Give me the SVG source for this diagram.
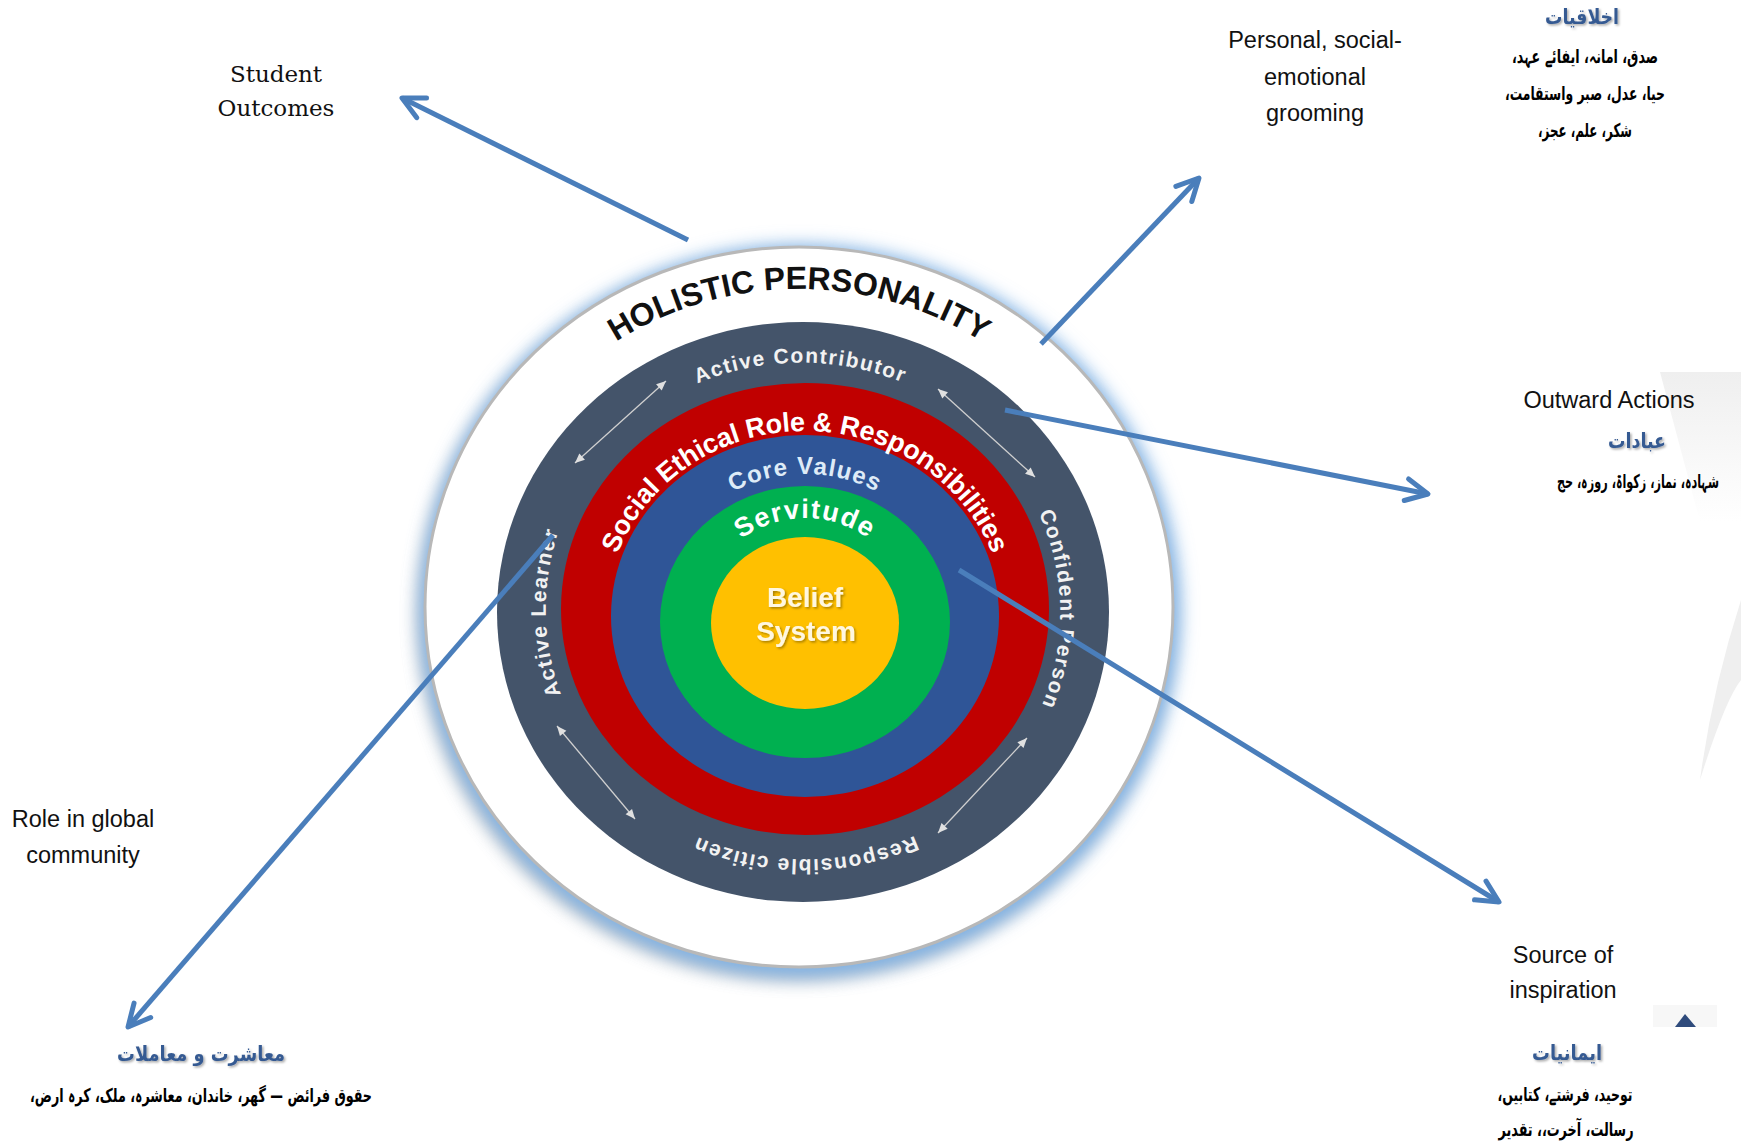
<svg xmlns="http://www.w3.org/2000/svg" width="1741" height="1142" viewBox="0 0 1741 1142">
<defs>
<style>
.lbl{font-family:"Liberation Sans",Arial,sans-serif;font-size:23.5px;fill:#111;text-anchor:middle}
.serif{font-family:"DejaVu Serif","Liberation Serif",serif;font-size:23px;fill:#111;text-anchor:middle}
.urt{font-family:"DejaVu Sans","Noto Sans",sans-serif;font-weight:bold;font-size:21px;fill:#355A92;text-anchor:middle;direction:rtl;unicode-bidi:embed}
.urb{font-family:"DejaVu Sans","Noto Sans",sans-serif;font-weight:bold;font-size:19px;fill:#000;text-anchor:middle;direction:rtl;unicode-bidi:embed}
.ring{font-family:"Liberation Sans",Arial,sans-serif;font-weight:bold}
.conn{fill:none;stroke:#4A7EBB;stroke-width:5}
.tiny{fill:none;stroke:#D0D0D0;stroke-width:1.3}
</style>
<marker id="ah" markerUnits="userSpaceOnUse" markerWidth="40" markerHeight="40" viewBox="-30 -20 40 40" refX="0" refY="0" orient="auto" overflow="visible">
<path d="M-22,-11 L0,0 L-22,11" fill="none" stroke="#4A7EBB" stroke-width="5" stroke-linecap="round" stroke-linejoin="round"/>
</marker>
<marker id="sm" markerUnits="userSpaceOnUse" markerWidth="12" markerHeight="12" viewBox="-8 -4 10 8" refX="0" refY="0" orient="auto-start-reverse" overflow="visible">
<path d="M0,0 L-8,-3.5 L-8,3.5 Z" fill="#E0E0E0"/>
</marker>
<filter id="blur" x="-20%" y="-20%" width="140%" height="140%"><feGaussianBlur stdDeviation="9"/></filter>
<filter id="tsh" x="-10%" y="-20%" width="120%" height="160%"><feDropShadow dx="1.5" dy="1.5" stdDeviation="1" flood-color="#000" flood-opacity="0.35"/></filter>
<linearGradient id="wm" x1="0" y1="0" x2="0" y2="1"><stop offset="0" stop-color="#EFEFEF"/><stop offset="1" stop-color="#FFFFFF"/></linearGradient>
<path id="pHol" d="M467,607 A332,318 0 0 1 1131,607"/>
<path id="pDark" d="M619.9,434.2 A259,250 0 0 1 986.1,787.8 A259,250 0 0 1 619.9,434.2"/>
<path id="pSoc" d="M605,620 A200,189 0 0 1 1005,620"/>
<path id="pCore" d="M655,620 A150,146 0 0 1 955,620"/>
<path id="pServ" d="M699,622 A106,104 0 0 1 911,622"/>
</defs>
<rect width="1741" height="1142" fill="#FFFFFF"/>

<g id="watermark">
<path d="M1660,372 L1741,372 L1741,522 L1700,522 Z" fill="url(#wm)"/>
<path d="M1741,600 Q1712,690 1700,780 Q1725,700 1741,680 Z" fill="#EFEFEF"/>
</g>

<g id="circle">
<ellipse cx="795" cy="617" rx="376" ry="362" fill="#808080" opacity="0.55" filter="url(#blur)"/>
<ellipse cx="800" cy="611" rx="380" ry="366" fill="#7FB3E8" filter="url(#blur)"/>
<ellipse cx="799" cy="607" rx="374" ry="360" fill="#FFFFFF" stroke="#B8B8B8" stroke-width="3"/>
<ellipse cx="803" cy="612" rx="306" ry="290" fill="#44546A"/>
<ellipse cx="805" cy="609" rx="244" ry="226" fill="#C00000"/>
<ellipse cx="805" cy="616" rx="194" ry="181" fill="#2F5597"/>
<ellipse cx="805" cy="622" rx="145" ry="136" fill="#00B050"/>
<ellipse cx="805" cy="623" rx="94" ry="86" fill="#FFC000"/>
</g>

<g id="holistic">
<text class="ring" font-size="32" fill="#111" text-anchor="middle"><textPath href="#pHol" startOffset="50%">HOLISTIC PERSONALITY</textPath></text>
</g>
<g id="outer-labels" class="ring" font-size="21" fill="#F2F2F2" letter-spacing="1.5" text-anchor="middle">
<text><textPath href="#pDark" startOffset="12.5%">Active Contributor</textPath></text>
<text><textPath href="#pDark" startOffset="37.5%">Confident Person</textPath></text>
<text><textPath href="#pDark" startOffset="62.5%">Responsible citizen</textPath></text>
<text><textPath href="#pDark" startOffset="87.5%">Active Learner</textPath></text>
</g>
<g id="cycle-arrows">
<line class="tiny" x1="575" y1="463" x2="666" y2="381" marker-start="url(#sm)" marker-end="url(#sm)"/>
<line class="tiny" x1="938" y1="389" x2="1035" y2="477" marker-start="url(#sm)" marker-end="url(#sm)"/>
<line class="tiny" x1="557" y1="726" x2="635" y2="819" marker-start="url(#sm)" marker-end="url(#sm)"/>
<line class="tiny" x1="1027" y1="738" x2="938" y2="833" marker-start="url(#sm)" marker-end="url(#sm)"/>
</g>
<g id="social">
<text class="ring" font-size="27" fill="#FFFFFF" text-anchor="middle" letter-spacing="-0.2"><textPath href="#pSoc" startOffset="50%">Social Ethical Role &amp; Responsibilities</textPath></text>
</g>
<g id="core">
<text class="ring" font-size="24" fill="#DEEBF7" text-anchor="middle" letter-spacing="1.2"><textPath href="#pCore" startOffset="50%">Core Values</textPath></text>
</g>
<g id="servitude">
<text class="ring" font-size="27" fill="#FFFFFF" text-anchor="middle" letter-spacing="1.5"><textPath href="#pServ" startOffset="50%">Servitude</textPath></text>
</g>
<g id="belief" filter="url(#tsh)">
<text class="ring" font-size="28" fill="#FFF7E0" text-anchor="middle" x="805" y="607">Belief</text>
<text class="ring" font-size="28" fill="#FFF7E0" text-anchor="middle" x="806" y="641">System</text>
</g>

<g id="connectors">
<line class="conn" x1="688" y1="240" x2="402" y2="98" marker-end="url(#ah)"/>
<line class="conn" x1="1041" y1="344" x2="1199" y2="178" marker-end="url(#ah)"/>
<line class="conn" x1="1005" y1="410" x2="1428" y2="494" marker-end="url(#ah)"/>
<line class="conn" x1="959" y1="570" x2="1499" y2="902" marker-end="url(#ah)"/>
<line class="conn" x1="553" y1="535" x2="128" y2="1027" marker-end="url(#ah)"/>
</g>

<g id="student-outcomes">
<text class="serif" x="276" y="82">Student</text>
<text class="serif" x="276" y="116">Outcomes</text>
</g>
<g id="personal">
<text class="lbl" x="1315" y="48">Personal, social-</text>
<text class="lbl" x="1315" y="85">emotional</text>
<text class="lbl" x="1315" y="121">grooming</text>
</g>
<g id="akhlaqiyat">
<text class="urt" x="1582" y="24" textLength="74" lengthAdjust="spacingAndGlyphs" filter="url(#tsh)">اخلاقیات</text>
<text class="urb" x="1585" y="63" textLength="146" lengthAdjust="spacingAndGlyphs">صدق، امانہ، ایفائے عہد،</text>
<text class="urb" x="1585" y="100" textLength="160" lengthAdjust="spacingAndGlyphs">حیا، عدل، صبر واستقامت،</text>
<text class="urb" x="1585" y="137" textLength="94" lengthAdjust="spacingAndGlyphs">شکر، علم، عجز،</text>
</g>
<g id="outward">
<text class="lbl" x="1609" y="408" font-size="30px">Outward Actions</text>
<text class="urt" x="1637" y="448" textLength="58" lengthAdjust="spacingAndGlyphs" filter="url(#tsh)">عبادات</text>
<text class="urb" x="1638" y="488" textLength="162" lengthAdjust="spacingAndGlyphs">شہادہ، نماز، زکواۃ، روزہ، حج</text>
</g>
<g id="global">
<text class="lbl" x="83" y="827">Role in global</text>
<text class="lbl" x="83" y="863">community</text>
<text class="urt" x="201" y="1061" textLength="168" lengthAdjust="spacingAndGlyphs" filter="url(#tsh)">معاشرت و معاملات</text>
<text class="urb" x="201" y="1102" textLength="342" lengthAdjust="spacingAndGlyphs">حقوق فرائض — گھر، خاندان، معاشرہ، ملک، کرہ ارض،</text>
</g>
<g id="source">
<text class="lbl" x="1563" y="963">Source of</text>
<text class="lbl" x="1563" y="998">inspiration</text>
<rect x="1653" y="1005" width="64" height="22" fill="#F7F7F7"/>
<polygon points="1675,1027 1685,1014 1696,1027" fill="#2F4B7C"/>
<text class="urt" x="1567" y="1060" textLength="70" lengthAdjust="spacingAndGlyphs" filter="url(#tsh)">ایمانیات</text>
<text class="urb" x="1565" y="1101" textLength="135" lengthAdjust="spacingAndGlyphs">توحید، فرشتے، کتابیں،</text>
<text class="urb" x="1566" y="1136" textLength="135" lengthAdjust="spacingAndGlyphs">رسالت، آخرت،، تقدیر</text>
</g>
</svg>
